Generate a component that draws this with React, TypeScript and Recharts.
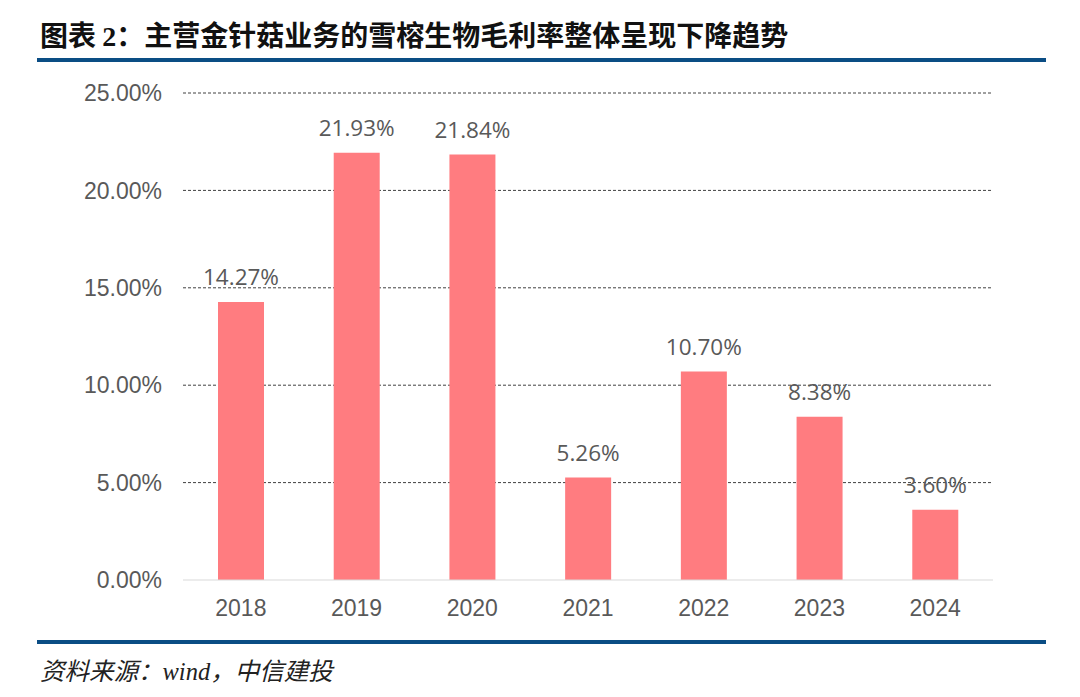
import React from 'react';
import { BarChart, Bar, XAxis, YAxis, CartesianGrid, LabelList } from 'recharts';

const years = ['2018', '2019', '2020', '2021', '2022', '2023', '2024'];
const margins = [14.27, 21.93, 21.84, 5.26, 10.7, 8.38, 3.6];
const yTicks = [0, 5, 10, 15, 20, 25];
const gridValues = [5, 10, 15, 20, 25];

const data = years.map((y, i) => ({ year: y, value: margins[i] }));

const title = '图表 2：主营金针菇业务的雪榕生物毛利率整体呈现下降趋势';
const source = '资料来源：wind，中信建投';

const tickFont = { fill: '#595959', fontSize: 23, fontFamily: 'Arial, "Liberation Sans", sans-serif' };

export default function App() {
  return (
    <div style={{ position: 'absolute', left: 0, top: 0, width: 1080, height: 697, background: '#fff' }}>
      <div
        style={{
          position: 'absolute',
          left: 40,
          top: 14,
          fontFamily: '"Noto Sans CJK SC", sans-serif',
          fontWeight: 700,
          fontSize: 28,
          lineHeight: '40px',
          color: '#111',
          whiteSpace: 'nowrap',
        }}
      >
        图表 <span style={{ fontFamily: '"Liberation Serif", serif' }}>2</span>
        {title.slice(4)}
      </div>
      <div style={{ position: 'absolute', left: 37, top: 58, width: 1009, height: 4, background: '#0a4d84' }} />
      <div style={{ position: 'absolute', left: 0, top: 0 }}>
        <BarChart width={1080} height={697} data={data} margin={{ top: 93, right: 87, left: 103, bottom: 87 }}>
          <CartesianGrid vertical={false} stroke="#404040" strokeDasharray="3 2" horizontalValues={gridValues} />
          <XAxis
            dataKey="year"
            axisLine={{ stroke: '#d9d9d9' }}
            tickLine={false}
            height={30}
            tickMargin={14}
            tick={tickFont}
          />
          <YAxis
            width={80}
            domain={[0, 25]}
            ticks={yTicks}
            axisLine={false}
            tickLine={false}
            tickSize={0}
            tickMargin={21}
            tickFormatter={(v: number) => `${v.toFixed(2)}%`}
            tick={tickFont}
          />
          <Bar dataKey="value" fill="#ff7c80" barSize={46} isAnimationActive={false}>
            <LabelList
              dataKey="value"
              position="top"
              offset={17}
              formatter={(v: number) => `${v.toFixed(2)}%`}
              style={{ fill: '#595959', fontSize: 22.5, fontFamily: '"Open Sans", "Noto Sans", sans-serif' }}
            />
          </Bar>
        </BarChart>
      </div>
      <div style={{ position: 'absolute', left: 37, top: 640, width: 1009, height: 4, background: '#0a4d84' }} />
      <div
        style={{
          position: 'absolute',
          left: 40,
          top: 655,
          fontFamily: '"Liberation Serif", "Noto Sans CJK SC", serif',
          fontStyle: 'italic',
          fontSize: 24.5,
          lineHeight: '34px',
          color: '#222',
          whiteSpace: 'nowrap',
        }}
      >
        {source}
      </div>
    </div>
  );
}
